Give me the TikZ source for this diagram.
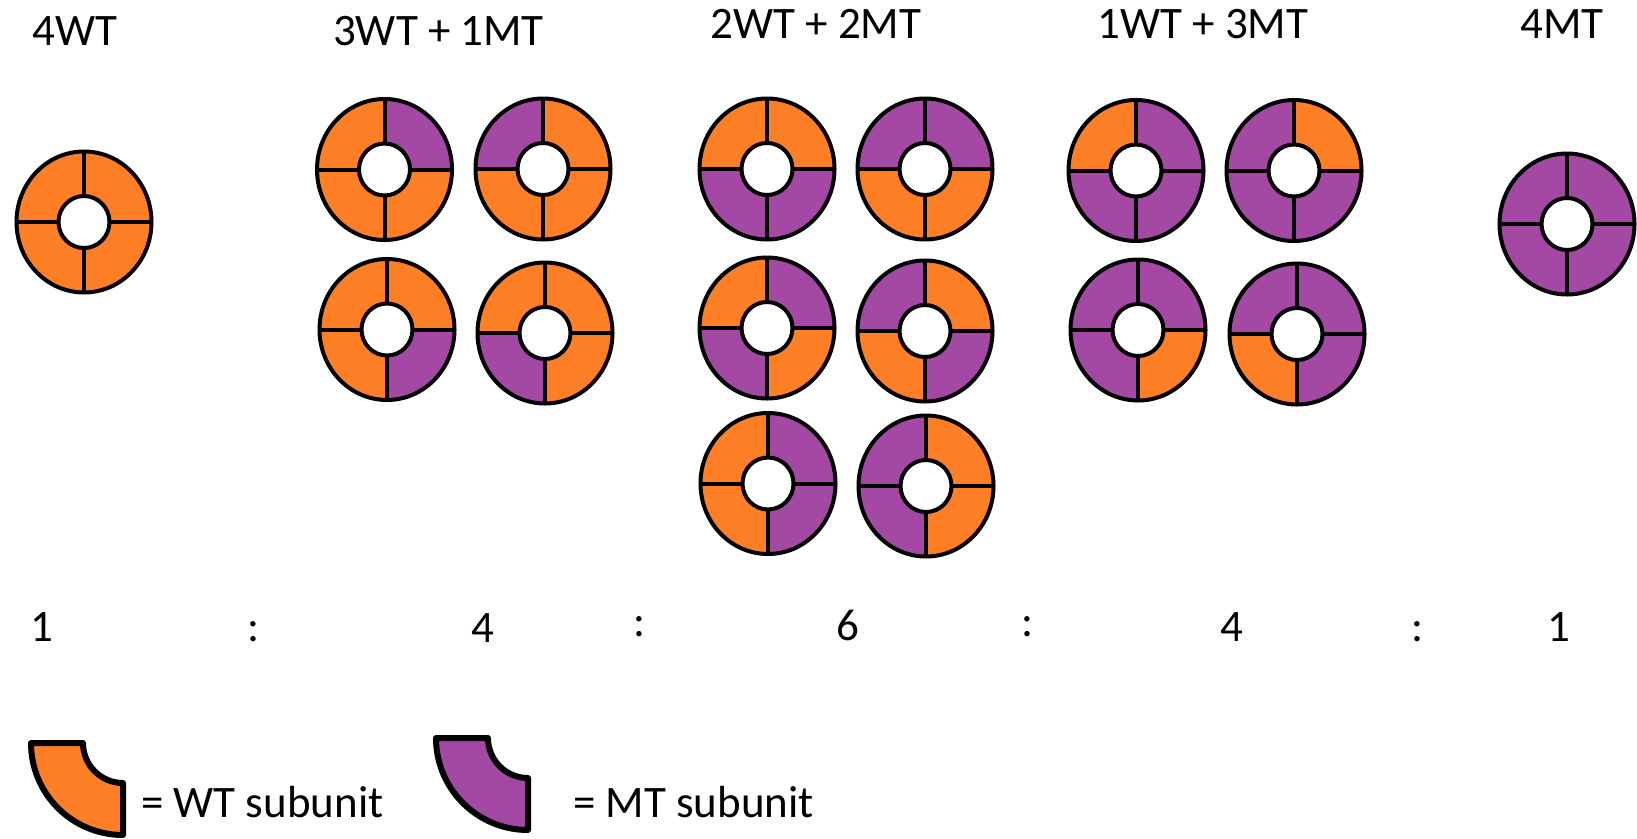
\documentclass[tikz,border=0pt]{standalone}
\usepackage{fontspec}
\setmainfont{Carlito}
\definecolor{wt}{RGB}{255,127,39}
\definecolor{mt}{RGB}{163,73,164}

\tikzset{
  subline/.style={line width=4pt, draw=black},
  keyline/.style={line width=6pt, draw=black, line join=round},
  txt/.style={font=\fontsize{45}{54}\selectfont, inner sep=0pt, anchor=base},
  keytxt/.style={font=\fontsize{45}{54}\selectfont, inner sep=0pt, anchor=base west}
}

% A channel seen from above: four subunits around a pore.
% #1 name, #2 x, #3 y, #4 top-left, #5 top-right, #6 bottom-left, #7 bottom-right
\newcommand\tetramer[7]{%
  \coordinate (#1) at (#2,#3);
  \begin{scope}[shift={(#2,#3)}]
    \begin{scope}
      \clip (0,0) ellipse[x radius=67.5, y radius=70.5];
      \fill[#4] (0,0) rectangle (-75,-75);
      \fill[#5] (0,0) rectangle (75,-75);
      \fill[#6] (0,0) rectangle (-75,75);
      \fill[#7] (0,0) rectangle (75,75);
    \end{scope}
    \draw[subline] (-67.5,0) -- (67.5,0) (0,-70.5) -- (0,70.5);
    \filldraw[subline, fill=white] (0,0) ellipse[x radius=25.5, y radius=26];
    \draw[subline] (0,0) ellipse[x radius=67.5, y radius=70.5];
  \end{scope}}

% One subunit drawn on its own for the key: #1 name, #2 x, #3 y (corner), #4 colour
\newcommand\keypiece[4]{%
  \coordinate (#1) at (#2,#3);
  \begin{scope}[shift={(#2,#3)}]
    \filldraw[keyline, fill=#4] (-92,0) -- (-40,0)
      .. controls (-40,22.1) and (-22.1,40) .. (0,40) -- (0,92)
      .. controls (-50.8,92) and (-92,50.8) .. (-92,0) -- cycle;
  \end{scope}}

\begin{document}
\begin{tikzpicture}[x=1pt, y=-1pt]
  \useasboundingbox (0,0) rectangle (1637,838);

  % column headings
  \node[txt] (h1) at (75,45)    {4WT};
  \node[txt] (h2) at (438.5,45) {3WT + 1MT};
  \node[txt] (h3) at (816,38)   {2WT + 2MT};
  \node[txt] (h4) at (1203,38)  {1WT + 3MT};
  \node[txt] (h5) at (1562,38)  {4MT};

  % 4WT
  \tetramer{a1}{84}{222}{wt}{wt}{wt}{wt}

  % 3WT + 1MT
  \tetramer{b1}{384.5}{169.5}{wt}{mt}{wt}{wt}
  \tetramer{b2}{543}{169}{mt}{wt}{wt}{wt}
  \tetramer{b3}{387}{329.5}{wt}{wt}{wt}{mt}
  \tetramer{b4}{545}{333}{wt}{wt}{mt}{wt}

  % 2WT + 2MT
  \tetramer{c1}{767}{169}{wt}{wt}{mt}{mt}
  \tetramer{c2}{925}{169}{mt}{mt}{wt}{wt}
  \tetramer{c3}{767}{328}{wt}{mt}{mt}{wt}
  \tetramer{c4}{925}{331}{mt}{wt}{wt}{mt}
  \tetramer{c5}{768}{483.5}{wt}{mt}{wt}{mt}
  \tetramer{c6}{926}{486}{mt}{wt}{mt}{wt}

  % 1WT + 3MT
  \tetramer{d1}{1136}{170.5}{wt}{mt}{mt}{mt}
  \tetramer{d2}{1294}{170.5}{mt}{wt}{mt}{mt}
  \tetramer{d3}{1138}{330}{mt}{mt}{mt}{wt}
  \tetramer{d4}{1297}{334}{mt}{mt}{wt}{mt}

  % 4MT
  \tetramer{e1}{1567}{224}{mt}{mt}{mt}{mt}

  % ratio row
  \node[txt] (r1) at (42,641)   {1};
  \node[txt] (s1) at (254,641)  {:};
  \node[txt] (r2) at (483,642)  {4};
  \node[txt] (s2) at (640,636)  {:};
  \node[txt] (r3) at (848,640)  {6};
  \node[txt] (s3) at (1028,636) {:};
  \node[txt] (r4) at (1232,641) {4};
  \node[txt] (s4) at (1417,641) {:};
  \node[txt] (r5) at (1559,641) {1};

  % key
  \keypiece{kw}{123}{743}{wt}
  \node[keytxt] (kwt) at (141,817) {= WT subunit};
  \keypiece{km}{528}{738}{mt}
  \node[keytxt] (kmt) at (573,817) {= MT subunit};
\end{tikzpicture}
\end{document}
